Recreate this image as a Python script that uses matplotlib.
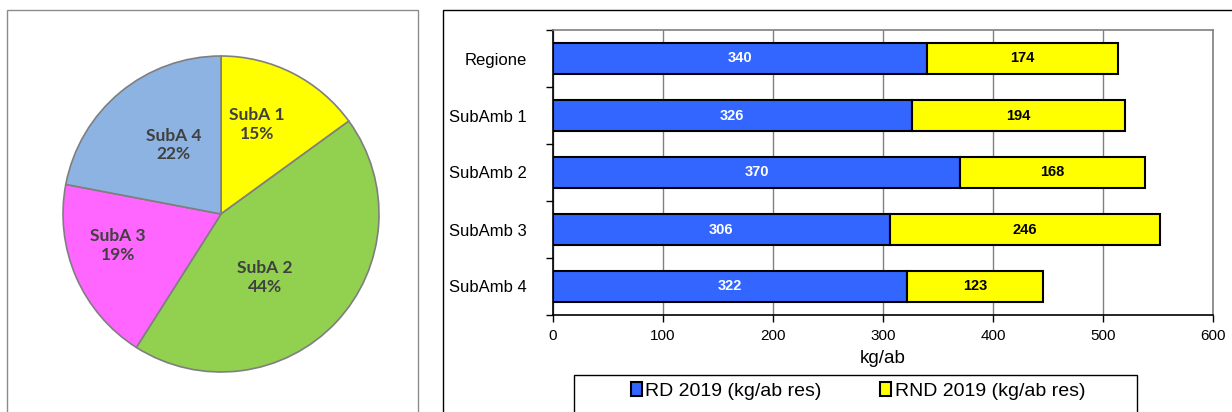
import numpy as np
import matplotlib.pyplot as plt
from matplotlib.patches import Rectangle, Patch

# pie data
pie_labels = ["SubA 1", "SubA 2", "SubA 3", "SubA 4"]
pie_values = [15, 44, 19, 22]
pie_colors = ["#FFFF00", "#92D050", "#FF66FF", "#8DB3E2"]

# bar data
categories = ["Regione", "SubAmb 1", "SubAmb 2", "SubAmb 3", "SubAmb 4"]
rd_2019 = [340, 326, 370, 306, 322]
rnd_2019 = [174, 194, 168, 246, 123]
xticks = [0, 100, 200, 300, 400, 500, 600]

W, H = 1232, 412
fig = plt.figure(figsize=(W / 100, H / 100), dpi=100)

def fx(px):
    return px / W

def fy(py):
    return 1 - py / H

sans = ["Liberation Sans", "DejaVu Sans"]

# panel borders
fig.patches.append(Rectangle((fx(7), fy(420)), fx(411), (420 - 10) / H,
                             transform=fig.transFigure, fill=False,
                             edgecolor="#8c8c8c", lw=1.0))
fig.patches.append(Rectangle((fx(443), fy(420)), fx(800), (420 - 10) / H,
                             transform=fig.transFigure, fill=False,
                             edgecolor="black", lw=1.0))

# ---- pie ----
r = 158
cx, cy = 221, 214
axp = fig.add_axes([fx(cx - r), fy(cy + r), fx(2 * r), 2 * r / H])
wedges, _ = axp.pie(pie_values, colors=pie_colors, startangle=90,
                    counterclock=False,
                    wedgeprops=dict(edgecolor="#7f7f7f", linewidth=1.2))
axp.set_xlim(-1, 1)
axp.set_ylim(-1, 1)
axp.axis("off")

label_r = [0.61, 0.49, 0.68, 0.53]
label_shift = [5, -12, -6.5, -5]  # degrees off the slice middle
for w, name, val, lr, sh in zip(wedges, pie_labels, pie_values, label_r, label_shift):
    ang = np.deg2rad((w.theta1 + w.theta2) / 2 + sh)
    axp.text(lr * np.cos(ang), lr * np.sin(ang), f"{name}\n{val}%",
             ha="center", va="center", fontsize=12.5, fontweight="bold",
             color="#404040", family=["Lato", "DejaVu Sans"], linespacing=1.2)

# ---- stacked bars ----
x0, x1, y0, y1 = 553, 1213, 30, 315
ax = fig.add_axes([fx(x0), fy(y1), fx(x1 - x0), (y1 - y0) / H])
y = np.arange(len(categories))
ax.barh(y, rd_2019, height=0.53, color="#3366FF", edgecolor="black",
        linewidth=1.5, zorder=3)
ax.barh(y, rnd_2019, left=rd_2019, height=0.53, color="#FFFF00",
        edgecolor="black", linewidth=1.5, zorder=3)
for yi, a, b in zip(y, rd_2019, rnd_2019):
    ax.text(a / 2, yi, str(a), ha="center", va="center", color="white",
            fontsize=10.5, fontweight="bold", family=sans, zorder=4)
    ax.text(a + b / 2, yi, str(b), ha="center", va="center", color="black",
            fontsize=10.5, fontweight="bold", family=sans, zorder=4)

ax.set_xlim(0, 600)
ax.set_ylim(4.5, -0.5)
ax.set_xticks(xticks)
ax.set_xticklabels([str(t) for t in xticks], family=sans, fontsize=11)
ax.set_yticks(y)
ax.set_yticklabels(categories, family=sans, fontsize=12)
ax.set_yticks(np.arange(-0.5, 5, 1), minor=True)
ax.tick_params(axis="y", which="major", length=0, pad=19)
ax.tick_params(axis="y", which="minor", length=5, direction="out", width=1)
ax.tick_params(axis="x", length=5, direction="out", width=1, pad=5)
ax.grid(axis="x", color="#808080", lw=1, zorder=0)
for s in ["top", "right"]:
    ax.spines[s].set_color("#808080")
    ax.spines[s].set_linewidth(1.2)
ax.spines["left"].set_linewidth(1.2)
ax.spines["bottom"].set_linewidth(1.2)
ax.set_xlabel("kg/ab", fontsize=13.5, family=sans, labelpad=5)

# legend box runs off the bottom edge like in the source image
fig.patches.append(Rectangle((fx(574), fy(420)), fx(563), (420 - 375) / H,
                             transform=fig.transFigure, fill=False,
                             edgecolor="black", lw=1.0))
handles = [Patch(facecolor="#3366FF", edgecolor="black", lw=1.5),
           Patch(facecolor="#FFFF00", edgecolor="black", lw=1.5)]
fig.legend(handles, ["RD 2019 (kg/ab res)", "RND 2019 (kg/ab res)"],
           loc="center", bbox_to_anchor=(fx(858), fy(391)),
           ncol=2, frameon=False,
           handlelength=0.55, handleheight=0.75, handletextpad=0.2,
           borderaxespad=0, borderpad=0, columnspacing=3.0,
           prop={"family": sans, "size": 14})

fig.savefig("out.png", dpi=100)
